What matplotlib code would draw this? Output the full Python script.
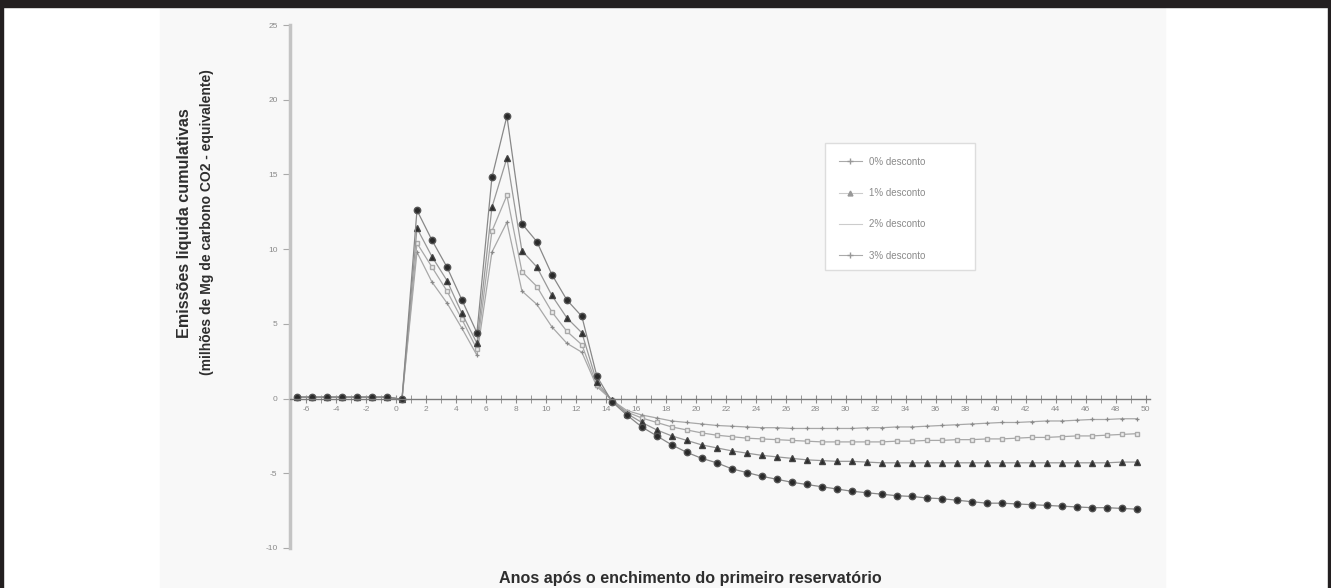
import numpy as np
import matplotlib
matplotlib.use('Agg')
import matplotlib.pyplot as plt
from matplotlib.lines import Line2D
from matplotlib.patches import Rectangle

plt.rcParams['font.family'] = ['Liberation Sans', 'DejaVu Sans']

# anos apos o enchimento do primeiro reservatorio
anos = np.arange(-7, 50)

pre = [0.1, 0.1, 0.1, 0.1, 0.1, 0.1, 0.1, -0.05]

desc0 = pre + [12.6, 10.6, 8.8, 6.6, 4.4, 14.8, 18.9, 11.7, 10.5, 8.3, 6.6, 5.5, 1.5,
               -0.2, -1.1, -1.9, -2.5, -3.1, -3.6, -4.0, -4.3, -4.7, -4.95, -5.2, -5.4,
               -5.6, -5.75, -5.9, -6.05, -6.2, -6.3, -6.4, -6.5, -6.55, -6.65, -6.7, -6.8,
               -6.9, -7.0, -7.0, -7.05, -7.1, -7.15, -7.2, -7.25, -7.3, -7.3, -7.35, -7.4]
desc1 = pre + [11.4, 9.5, 7.9, 5.7, 3.7, 12.8, 16.1, 9.9, 8.8, 6.9, 5.4, 4.4, 1.1,
               -0.1, -1.0, -1.6, -2.1, -2.5, -2.8, -3.1, -3.3, -3.5, -3.65, -3.8, -3.9,
               -4.0, -4.1, -4.15, -4.2, -4.2, -4.25, -4.3, -4.3, -4.3, -4.3, -4.3, -4.3,
               -4.3, -4.3, -4.3, -4.3, -4.3, -4.3, -4.3, -4.3, -4.3, -4.3, -4.25, -4.25]
desc2 = pre + [10.4, 8.8, 7.2, 5.3, 3.3, 11.2, 13.6, 8.5, 7.5, 5.8, 4.5, 3.6, 0.9,
               -0.1, -0.9, -1.3, -1.6, -1.9, -2.1, -2.3, -2.45, -2.55, -2.65, -2.7, -2.75,
               -2.8, -2.85, -2.9, -2.9, -2.9, -2.9, -2.9, -2.85, -2.85, -2.8, -2.8, -2.75,
               -2.75, -2.7, -2.7, -2.65, -2.6, -2.6, -2.55, -2.5, -2.5, -2.45, -2.4, -2.35]
desc3 = pre + [9.8, 7.8, 6.4, 4.7, 2.9, 9.8, 11.8, 7.2, 6.3, 4.8, 3.7, 3.1, 0.8,
               -0.1, -0.8, -1.1, -1.3, -1.5, -1.6, -1.7, -1.8, -1.85, -1.9, -1.95, -1.95,
               -2.0, -2.0, -2.0, -2.0, -2.0, -1.95, -1.95, -1.9, -1.9, -1.85, -1.8, -1.75,
               -1.7, -1.65, -1.6, -1.6, -1.55, -1.5, -1.5, -1.45, -1.4, -1.4, -1.35, -1.35]

legendas = ['0% desconto', '1% desconto', '2% desconto', '3% desconto']
xtick_vals = np.arange(-6, 51, 2)
ytick_vals = [-10, -5, 0, 5, 10, 15, 20, 25]

W, H = 1331, 588
fig = plt.figure(figsize=(W / 100, H / 100), dpi=100)
fig.patch.set_facecolor('white')

# scanned page look: light panel, black frame
fig.add_artist(Rectangle((160 / W, 0), 1005 / W, 1 - 8 / H, transform=fig.transFigure,
                         color='#f8f8f8', zorder=0))
fig.add_artist(Rectangle((0, 1 - 7 / H), 1, 7 / H, transform=fig.transFigure,
                         color='#231f20', zorder=5))
fig.add_artist(Rectangle((0, 0), 3 / W, 1, transform=fig.transFigure,
                         color='#231f20', zorder=5))
fig.add_artist(Rectangle((1 - 3 / W, 0), 3 / W, 1, transform=fig.transFigure,
                         color='#231f20', zorder=5))
# legend box
fig.add_artist(Rectangle((825 / W, 1 - 270 / H), 150 / W, 127 / H, transform=fig.transFigure,
                         facecolor='white', edgecolor='#dddddd', lw=1, zorder=1))

ax = fig.add_axes([290 / W, 40 / H, 860 / W, 523 / H])
ax.set_facecolor('none')
ax.set_zorder(2)

ax.plot(anos, desc3, color='#a8a8a8', lw=0.9, marker='+', ms=3.5, mew=0.9, mec='#8a8a8a')
ax.plot(anos, desc2, color='#a8a8a8', lw=0.9, marker='s', ms=2.2, mfc='#eeeeee', mec='#aaaaaa')
ax.plot(anos, desc1, color='#999999', lw=0.9, marker='^', ms=4.6, mfc='#2a2a2a', mec='#444444')
ax.plot(anos, desc0, color='#888888', lw=0.9, marker='o', ms=4.6, mfc='#2a2a2a', mec='#555555')

off = 0.4
ax.set_xlim(-7.47, 49.9)
ax.set_ylim(-10, 25)
ax.set_xticks(xtick_vals - off)
ax.set_xticklabels([str(v) for v in xtick_vals])
ax.set_xticks(np.arange(-7, 50) - off, minor=True)
ax.set_yticks(ytick_vals)
ax.set_yticklabels([str(v) for v in ytick_vals])

for s in ['top', 'right']:
    ax.spines[s].set_visible(False)
ax.spines['bottom'].set_position(('data', 0))
ax.spines['bottom'].set_color('#7a7a7a')
ax.spines['bottom'].set_linewidth(1)
ax.spines['left'].set_color('#c4c4c4')
ax.spines['left'].set_linewidth(2.5)

ax.tick_params(axis='x', which='both', direction='inout', length=6, color='#8a8a8a',
               labelsize=6, labelcolor='#8a8a8a', pad=2)
ax.tick_params(axis='y', direction='out', length=5, color='#aaaaaa',
               labelsize=6, labelcolor='#8a8a8a', pad=4)

fig.text(185 / W, 1 - 223 / H, 'Emissões liquida cumulativas', rotation=90,
         ha='center', va='center', fontsize=11.6, fontweight='bold', color='#2e2e2e')
fig.text(207 / W, 1 - 222 / H, '(milhões de Mg de carbono CO2 - equivalente)', rotation=90,
         ha='center', va='center', fontsize=10, fontweight='bold', color='#2e2e2e')
fig.text(690 / W, 1 - 578 / H, 'Anos após o enchimento do primeiro reservatório',
         ha='center', va='center', fontsize=11.6, fontweight='bold', color='#2e2e2e')

handles = [
    Line2D([], [], color='#aaaaaa', lw=0.8, marker='+', ms=4, mec='#999999'),
    Line2D([], [], color='#cccccc', lw=0.8, marker='^', ms=3.5, mfc='#999999', mec='#999999'),
    Line2D([], [], color='#cccccc', lw=0.8),
    Line2D([], [], color='#aaaaaa', lw=0.8, marker='+', ms=4, mec='#999999'),
]
leg = ax.legend(handles, legendas, loc='upper left',
                bbox_to_anchor=(825 / W, 1 - 143 / H), bbox_transform=fig.transFigure,
                fontsize=7, labelcolor='#8a8a8a', frameon=True,
                labelspacing=2.2, handlelength=2.4, borderpad=1.4, handletextpad=0.7,
                borderaxespad=0)
leg.get_frame().set_visible(False)

fig.savefig('out.png', dpi=100)
